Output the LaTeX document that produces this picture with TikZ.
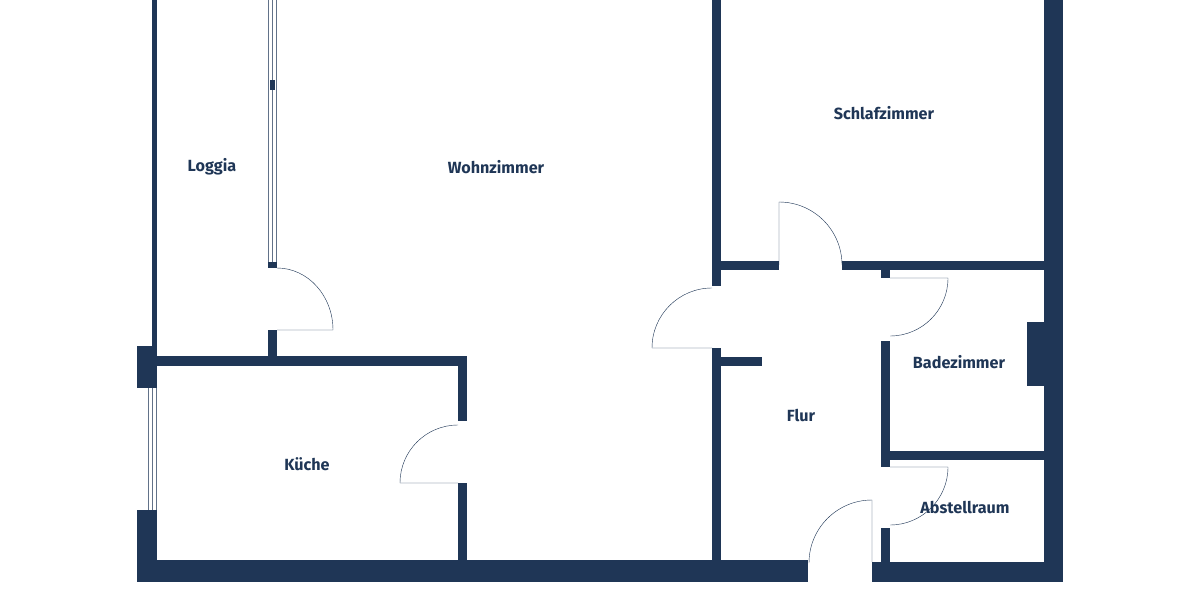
\documentclass[tikz,border=0pt]{standalone}
\usepackage{fontspec}
\setmainfont{Fira Sans}
\usetikzlibrary{positioning}
\definecolor{navy}{HTML}{1F3656}

\begin{document}
\begin{tikzpicture}[
    x=0.5mm, y=-0.5mm,
    % Global Styles
    font=\fontsize{23}{25}\selectfont\bfseries,
    % walls and openings
    wall/.style={fill=navy, draw=none},
    leaf/.style={draw=navy, line width=0.6pt},
    pane/.style={draw=navy!70, line width=0.6pt},
    room/.style={text=navy, inner sep=0pt}
]
\useasboundingbox (0,0) rectangle (1200,600);

%% --- OUTER WALLS ---
\fill[wall] (152,0) rectangle (157,348);
\fill[wall] (137,346) rectangle (157,388);
\fill[wall] (137,510) rectangle (157,582);
\fill[wall] (137,560) rectangle (808,582);
\fill[wall] (872,562) rectangle (1063,582);
\fill[wall] (1044,0) rectangle (1063,582);

%% --- INNER WALLS ---
% Kitchen
\fill[wall] (157,356) rectangle (467,366);
\fill[wall] (458,356) rectangle (467,421);
\fill[wall] (458,483) rectangle (467,560);
% Loggia partition
\fill[wall] (268,262) rectangle (277,268);
\fill[wall] (268,330) rectangle (277,356);
% Hall left wall
\fill[wall] (712,0) rectangle (721,286);
\fill[wall] (712,348) rectangle (721,562);
\fill[wall] (721,357) rectangle (762,366);
% Bedroom bottom wall
\fill[wall] (721,261) rectangle (779,270);
\fill[wall] (842,261) rectangle (1044,270);
% Bathroom and storage
\fill[wall] (881,270) rectangle (890,278);
\fill[wall] (881,341) rectangle (890,467);
\fill[wall] (890,451) rectangle (1044,460);
\fill[wall] (881,528) rectangle (890,562);
\fill[wall] (1027,322) rectangle (1044,386);

%% --- WINDOWS ---
\foreach \x in {268.5,272.5,276.5}
    \draw[pane] (\x,0) -- (\x,262);
\fill[wall] (270,80) rectangle (275,90);
\foreach \x in {148.5,152.5,156.5}
    \draw[pane] (\x,388) -- (\x,510);

%% --- DOORS ---
\draw[leaf] (277,330) -- (333,330) arc[start angle=0, end angle=-90, x radius=56, y radius=62];
\draw[leaf] (458,483) -- (400,483) arc[start angle=180, end angle=270, radius=58];
\draw[leaf] (712,348) -- (652,348) arc[start angle=180, end angle=270, radius=60];
\draw[leaf] (779,265) -- (779,202) arc[start angle=-90, end angle=0, radius=63];
\draw[leaf] (890,278) -- (948,278) arc[start angle=0, end angle=90, radius=58];
\draw[leaf] (890,467) -- (948,467) arc[start angle=0, end angle=90, radius=58];
\draw[leaf] (872,562) -- (872,500) arc[start angle=-90, end angle=-180, radius=63];

%% --- ROOM LABELS ---
\node[room] (loggia) at (212,167) {Loggia};
\node[room] (wohn) at (496,167) {Wohnzimmer};
\node[room] (schlaf) at (884,113) {Schlafzimmer};
\node[room] (kueche) at (307,464) {Küche};
\node[room] (flur) at (801,416) {Flur};
\node[room] (bad) at (959,362) {Badezimmer};
\node[room] (abstell) at (965,507) {Abstellraum};
\end{tikzpicture}
\end{document}
